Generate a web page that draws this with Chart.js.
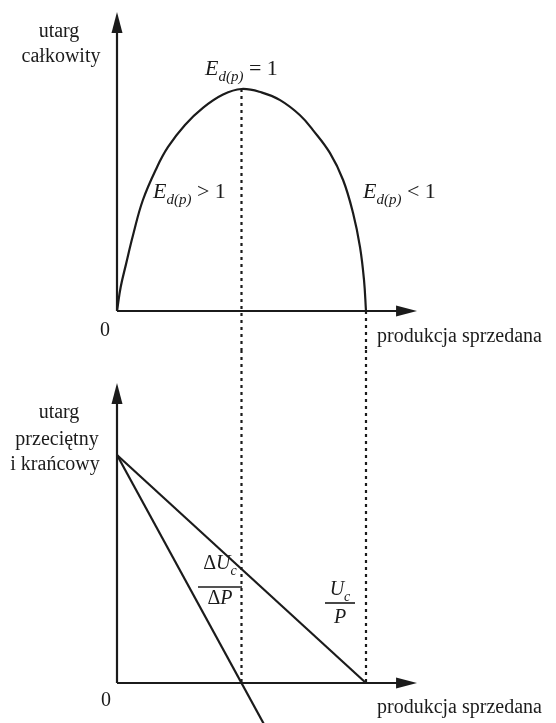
<!DOCTYPE html>
<html lang="pl">
<head>
<meta charset="utf-8">
<script src="https://cdn.jsdelivr.net/npm/chart.js@4.4.1/dist/chart.umd.min.js"></script>
<style>
  body { margin: 0; background: #fff; }
  canvas { position: absolute; left: 0; }
</style>
</head>
<body>
<canvas id="topChart" width="556" height="350" style="top:0"></canvas>
<canvas id="bottomChart" width="556" height="373" style="top:350px"></canvas>
<script>
// utarg całkowity (produkcja, utarg)
const qTotal = [0, 0.15, 0.36, 0.64, 1.04, 1.61, 2.05, 2.73, 3.45, 4.26, 5, 5.8, 6.55, 7.35, 7.87, 8.55, 9.08, 9.48, 9.76, 9.92, 10];
const revTotal = [0, 1.09, 2.1, 3.4, 5.0, 6.49, 7.39, 8.38, 9.15, 9.75, 10, 9.85, 9.5, 8.82, 8.15, 7.12, 5.9, 4.41, 2.88, 1.4, 0];

// utarg przeciętny (Uc/P) i krańcowy (ΔUc/ΔP)
const qAvg = [0, 10];
const revAvg = [10, 0];
const qMarg = [0, 6];
const revMarg = [10, -2];

// punkty charakterystyczne
const qPeak = 5;
const revPeak = 10;
const qEnd = 10;

// końce osi (strzałki)
const xAxisEnd = 12.05;
const yTopEnd = 13.47;
const yBottomEnd = 13.16;

const INK = "#1b1b1b";
const SERIF = "'Liberation Serif', 'DejaVu Serif', serif";

const pts = (xs, ys) => xs.map((x, i) => ({ x, y: ys[i] }));

function font(run) {
  const size = run.size || (run.sub ? 14 : 20);
  return (run.it ? "italic " : "") + size + "px " + SERIF;
}

function drawRuns(ctx, x, y, runs, align) {
  let total = 0;
  runs.forEach(r => { ctx.font = font(r); total += ctx.measureText(r.t).width; });
  let cx = align === "center" ? x - total / 2 : x;
  ctx.textAlign = "left";
  ctx.textBaseline = "alphabetic";
  runs.forEach(r => {
    ctx.font = font(r);
    ctx.fillText(r.t, cx, y + (r.sub ? 6 : 0));
    cx += ctx.measureText(r.t).width;
  });
}

function arrowHead(ctx, x, y, dir) {
  ctx.beginPath();
  if (dir === "up") {
    ctx.moveTo(x, y);
    ctx.lineTo(x - 5.5, y + 21);
    ctx.lineTo(x + 5.5, y + 21);
  } else {
    ctx.moveTo(x, y);
    ctx.lineTo(x - 21, y - 5.5);
    ctx.lineTo(x - 21, y + 5.5);
  }
  ctx.closePath();
  ctx.fill();
}

// osie ze strzałkami i napisy
const sketchPlugin = {
  id: "sketch",
  afterDatasetsDraw(chart, args, opts) {
    const { ctx, scales: { x, y } } = chart;
    const ox = x.getPixelForValue(0);
    const oy = y.getPixelForValue(0);
    const tx = x.getPixelForValue(opts.xEnd);
    const ty = y.getPixelForValue(opts.yEnd);
    ctx.save();
    ctx.strokeStyle = INK;
    ctx.fillStyle = INK;
    ctx.lineWidth = 2.2;
    ctx.beginPath();
    ctx.moveTo(ox, oy);
    ctx.lineTo(ox, ty + 10);
    ctx.moveTo(ox, oy);
    ctx.lineTo(tx - 10, oy);
    ctx.stroke();
    arrowHead(ctx, ox, ty, "up");
    arrowHead(ctx, tx, oy, "right");

    opts.labels.forEach(l => drawRuns(ctx, l.x, l.y, l.runs, l.align));

    (opts.fractions || []).forEach(f => {
      drawRuns(ctx, f.x, f.num, f.top, "center");
      drawRuns(ctx, f.x, f.den, f.bottom, "center");
      ctx.lineWidth = 1.6;
      ctx.beginPath();
      ctx.moveTo(f.x - f.w / 2, f.bar);
      ctx.lineTo(f.x + f.w / 2, f.bar);
      ctx.stroke();
    });
    ctx.restore();
  }
};

const plain = t => [{ t }];
const elast = sign => [
  { t: "E", it: true, size: 22 },
  { t: "d(p)", it: true, sub: true, size: 15 },
  { t: " " + sign + " 1", size: 22 }
];

function baseOptions(xr, yr, sketch) {
  return {
    responsive: false,
    animation: false,
    layout: { padding: 0 },
    elements: { point: { radius: 0 } },
    plugins: { legend: { display: false }, tooltip: { enabled: false }, sketch },
    scales: {
      x: { type: "linear", display: false, min: xr[0], max: xr[1] },
      y: { type: "linear", display: false, min: yr[0], max: yr[1] }
    }
  };
}

const xRange = [-4.699, 17.631];
const topRange = [-1.757, 14.009];
const bottomRange = [-1.754, 14.605];

const dotted = { borderColor: INK, borderWidth: 2.2, borderDash: [3, 4], fill: false };
const solid = { borderColor: INK, borderWidth: 2.2, fill: false };

new Chart(document.getElementById("topChart"), {
  type: "line",
  data: {
    datasets: [
      { ...solid, data: pts(qTotal, revTotal), tension: 0.4 },
      { ...dotted, data: [{ x: qPeak, y: revPeak }, { x: qPeak, y: topRange[0] }] },
      { ...dotted, data: [{ x: qEnd, y: 0 }, { x: qEnd, y: topRange[0] }] }
    ]
  },
  options: baseOptions(xRange, topRange, {
    xEnd: xAxisEnd,
    yEnd: yTopEnd,
    labels: [
      { x: 59, y: 37, align: "center", runs: plain("utarg") },
      { x: 61, y: 62, align: "center", runs: plain("całkowity") },
      { x: 205, y: 75, runs: elast("=") },
      { x: 153, y: 198, runs: elast(">") },
      { x: 363, y: 198, runs: elast("<") },
      { x: 105, y: 336, align: "center", runs: plain("0") },
      { x: 377, y: 342, runs: plain("produkcja sprzedana") }
    ]
  }),
  plugins: [sketchPlugin]
});

new Chart(document.getElementById("bottomChart"), {
  type: "line",
  data: {
    datasets: [
      { ...solid, data: pts(qAvg, revAvg) },
      { ...solid, data: pts(qMarg, revMarg) },
      { ...dotted, data: [{ x: qPeak, y: bottomRange[1] }, { x: qPeak, y: 0 }] },
      { ...dotted, data: [{ x: qEnd, y: bottomRange[1] }, { x: qEnd, y: 0 }] }
    ]
  },
  options: baseOptions(xRange, bottomRange, {
    xEnd: xAxisEnd,
    yEnd: yBottomEnd,
    labels: [
      { x: 59, y: 68, align: "center", runs: plain("utarg") },
      { x: 57, y: 95, align: "center", runs: plain("przeciętny") },
      { x: 55, y: 120, align: "center", runs: plain("i krańcowy") },
      { x: 106, y: 356, align: "center", runs: plain("0") },
      { x: 377, y: 363, runs: plain("produkcja sprzedana") }
    ],
    fractions: [
      { x: 220, num: 219, bar: 237, den: 254, w: 44,
        top: [{ t: "Δ" }, { t: "U", it: true }, { t: "c", it: true, sub: true }],
        bottom: [{ t: "Δ" }, { t: "P", it: true }] },
      { x: 340, num: 245, bar: 253, den: 273, w: 30,
        top: [{ t: "U", it: true }, { t: "c", it: true, sub: true }],
        bottom: [{ t: "P", it: true }] }
    ]
  }),
  plugins: [sketchPlugin]
});
</script>
</body>
</html>
